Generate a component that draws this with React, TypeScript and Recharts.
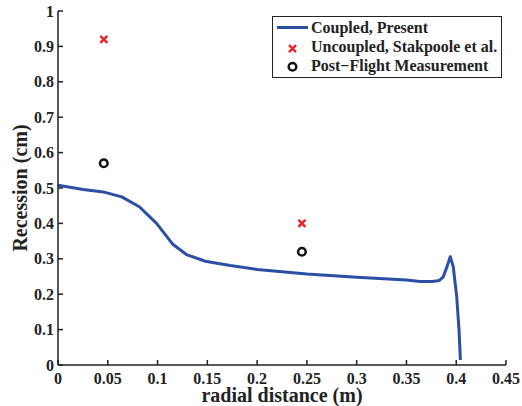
import { ComposedChart, Line, Scatter, XAxis, YAxis } from "recharts";

// coupled solution (present work)
const radial = [
  0, 0.0254, 0.0455, 0.064, 0.0817, 0.099, 0.115, 0.129, 0.148, 0.173, 0.2, 0.25, 0.3, 0.35,
  0.3636, 0.376, 0.383, 0.387, 0.391, 0.394, 0.397, 0.4005, 0.4028, 0.4038, 0.4042,
];
const recession = [
  0.508, 0.496, 0.489, 0.475, 0.447, 0.4, 0.342, 0.312, 0.293, 0.281, 0.27, 0.257, 0.248, 0.24,
  0.236, 0.236, 0.239, 0.249, 0.28, 0.306, 0.278, 0.193, 0.099, 0.04, 0.014,
];

// uncoupled, Stakpoole et al.
const uncoupledX = [0.046, 0.245];
const uncoupledY = [0.92, 0.4];

// post-flight measurement
const measuredX = [0.046, 0.245];
const measuredY = [0.57, 0.32];

const xTicks = [0, 0.05, 0.1, 0.15, 0.2, 0.25, 0.3, 0.35, 0.4, 0.45];
const yTicks = [0, 0.1, 0.2, 0.3, 0.4, 0.5, 0.6, 0.7, 0.8, 0.9, 1];

const coupled = radial.map((x, i) => ({ x, y: recession[i] }));
const uncoupled = uncoupledX.map((x, i) => ({ x, y: uncoupledY[i] }));
const measured = measuredX.map((x, i) => ({ x, y: measuredY[i] }));

const FONT = "'Liberation Serif', 'Times New Roman', serif";
const INK = "#222";
const BLUE = "#2c4fa6";
const RED = "#e8262b";

const XTick = (props: any) => {
  const { x, y, payload } = props;
  return (
    <text x={x} y={y} dy={11.5} textAnchor="middle" fontSize={16} fontWeight="bold" fontFamily={FONT} fill={INK}>
      {payload.value}
    </text>
  );
};

const YTick = (props: any) => {
  const { x, y, payload } = props;
  return (
    <text x={x} y={y} dy={5.5} textAnchor="end" fontSize={16} fontWeight="bold" fontFamily={FONT} fill={INK}>
      {payload.value}
    </text>
  );
};

const Cross = (props: any) => {
  const { cx, cy } = props;
  const s = 3.5;
  return (
    <g stroke={RED} strokeWidth={2.5}>
      <line x1={cx - s} y1={cy - s} x2={cx + s} y2={cy + s} />
      <line x1={cx - s} y1={cy + s} x2={cx + s} y2={cy - s} />
    </g>
  );
};

const Ring = (props: any) => {
  const { cx, cy } = props;
  return <circle cx={cx} cy={cy} r={3.8} fill="#fff" stroke="#111" strokeWidth={2.5} />;
};

export default function App() {
  return (
    <div style={{ position: "absolute", left: 0, top: 0, width: 522, height: 406, background: "#fff" }}>
      <ComposedChart width={522} height={406} margin={{ top: 11, right: 16, left: 0, bottom: 0 }}>
        <XAxis
          type="number"
          dataKey="x"
          domain={[0, 0.45]}
          ticks={xTicks}
          allowDataOverflow
          height={41}
          tickSize={-5}
          tickMargin={12}
          stroke={INK}
          strokeWidth={1.5}
          tick={XTick}
          label={{
            content: (p: any) => (
              <text
                x={p.viewBox.x + p.viewBox.width / 2}
                y={402}
                textAnchor="middle"
                fontSize={20}
                fontWeight="bold"
                fontFamily={FONT}
                fill={INK}
              >
                radial distance (m)
              </text>
            ),
          }}
        />
        <XAxis
          xAxisId="top"
          orientation="top"
          type="number"
          domain={[0, 0.45]}
          ticks={xTicks}
          allowDataOverflow
          height={0}
          tickSize={-5}
          tick={false}
          stroke={INK}
          strokeWidth={1.5}
        />
        <YAxis
          type="number"
          domain={[0, 1]}
          ticks={yTicks}
          allowDataOverflow
          width={58}
          tickSize={-5}
          tickMargin={9}
          stroke={INK}
          strokeWidth={1.5}
          tick={YTick}
          label={{
            content: (p: any) => (
              <text
                transform={`translate(27, ${p.viewBox.y + p.viewBox.height / 2}) rotate(-90)`}
                textAnchor="middle"
                fontSize={20}
                fontWeight="bold"
                fontFamily={FONT}
                fill={INK}
              >
                Recession (cm)
              </text>
            ),
          }}
        />
        <YAxis
          yAxisId="right"
          orientation="right"
          type="number"
          domain={[0, 1]}
          ticks={yTicks}
          allowDataOverflow
          width={0}
          tickSize={-5}
          tick={false}
          stroke={INK}
          strokeWidth={1.5}
        />
        <Line
          data={coupled}
          dataKey="y"
          type="linear"
          stroke={BLUE}
          strokeWidth={3}
          strokeLinejoin="round"
          dot={false}
          isAnimationActive={false}
        />
        <Scatter data={uncoupled} dataKey="y" shape={Cross} isAnimationActive={false} />
        <Scatter data={measured} dataKey="y" shape={Ring} isAnimationActive={false} />
      </ComposedChart>

      {/* legend box, drawn as an overlay in the top right corner */}
      <svg width={522} height={406} style={{ position: "absolute", left: 0, top: 0, pointerEvents: "none" }}>
        <rect x={272.5} y={16.5} width={229} height={61} fill="#fff" stroke={INK} strokeWidth={1} />
        <line x1={277} y1={27.5} x2={308} y2={27.5} stroke={BLUE} strokeWidth={3} />
        <Cross cx={292.5} cy={48.7} />
        <Ring cx={292.5} cy={66.7} />
        <g fontSize={16} fontWeight="bold" fontFamily={FONT} fill={INK}>
          <text x={311} y={32.5}>Coupled, Present</text>
          <text x={311} y={51.5}>Uncoupled, Stakpoole et al.</text>
          <text x={311} y={71}>Post−Flight Measurement</text>
        </g>
      </svg>
    </div>
  );
}
